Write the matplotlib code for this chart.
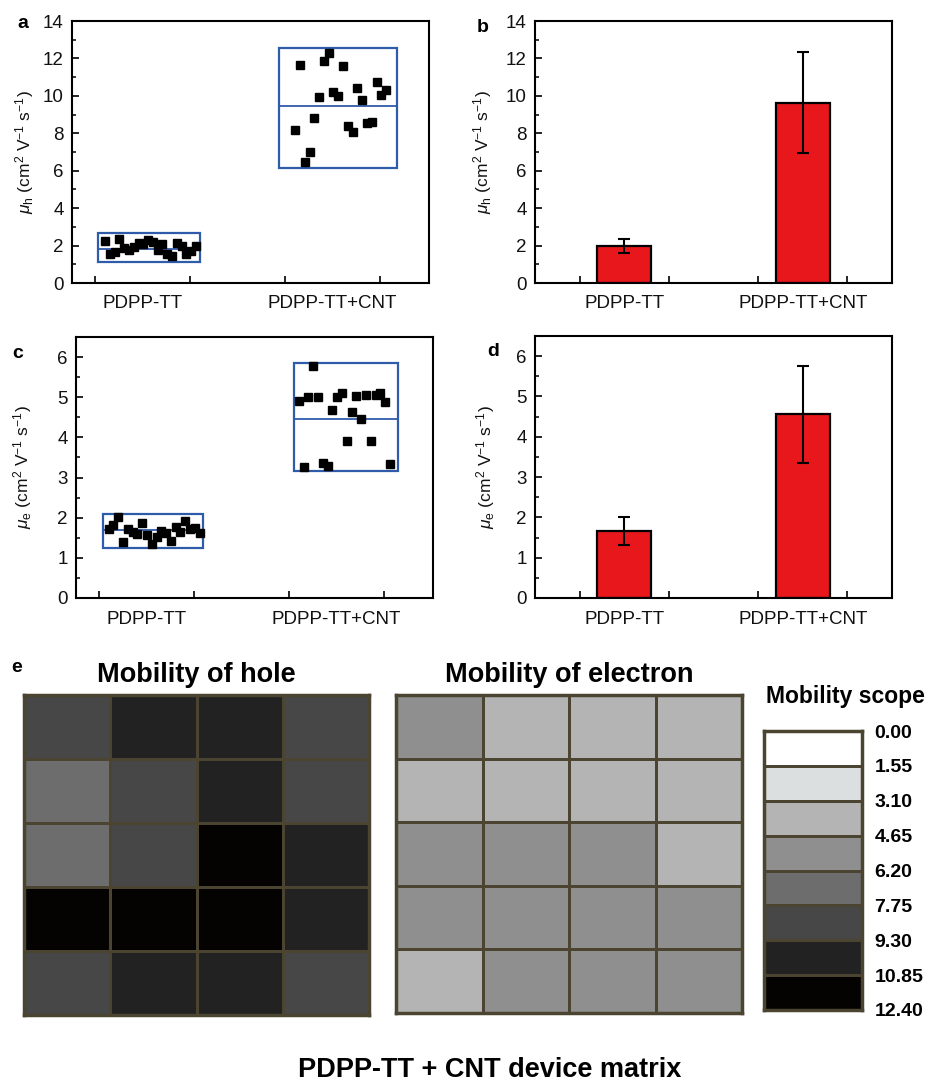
import numpy as np
import matplotlib
matplotlib.use("Agg")
import matplotlib.pyplot as plt
from matplotlib.patches import Rectangle
from matplotlib.colors import ListedColormap, BoundaryNorm
from matplotlib.ticker import MultipleLocator

plt.rcParams['font.family'] = ['Liberation Sans', 'DejaVu Sans']
plt.rcParams['mathtext.fontset'] = 'custom'
plt.rcParams['mathtext.rm'] = 'Liberation Sans'
plt.rcParams['mathtext.it'] = 'Liberation Sans:italic'

# ---- data ----
groups = ['PDPP-TT', 'PDPP-TT+CNT']

hole_tt = [2.23, 1.57, 1.64, 2.34, 1.89, 1.75, 1.93, 2.12, 2.10, 2.28,
           2.21, 1.75, 2.09, 1.57, 1.44, 2.14, 1.98, 1.53, 1.71, 2.00]
hole_cnt = [8.20, 11.66, 6.47, 6.99, 8.84, 9.93, 11.87, 12.30, 10.21, 10.00,
            11.57, 8.38, 8.06, 10.43, 9.80, 8.56, 8.59, 10.73, 10.04, 10.29]
elec_tt = [1.73, 1.83, 2.01, 1.39, 1.71, 1.64, 1.60, 1.88, 1.57, 1.34,
           1.51, 1.68, 1.63, 1.43, 1.78, 1.65, 1.92, 1.73, 1.75, 1.61]
elec_cnt = [4.91, 3.27, 5.01, 5.77, 5.00, 3.37, 3.28, 4.67, 5.01, 5.11,
            3.92, 4.64, 5.04, 4.47, 5.05, 3.92, 5.05, 5.11, 4.88, 3.34]

# box: (low, mean line, high)
hole_box = [(1.14, 1.84, 2.66), (6.17, 9.47, 12.57)]
elec_box = [(1.25, 1.70, 2.09), (3.16, 4.46, 5.85)]

hole_mean = [1.96, 9.64]
hole_err = [0.38, 2.70]
elec_mean = [1.67, 4.56]
elec_err = [0.35, 1.20]

hole_matrix = [[8.20, 9.93, 10.21, 8.84],
               [6.47, 8.38, 10.00, 8.06],
               [6.99, 8.56, 11.66, 10.43],
               [11.87, 12.30, 11.57, 10.73],
               [8.59, 10.04, 10.29, 9.10]]
elec_matrix = [[4.91, 3.27, 3.37, 3.28],
               [3.92, 4.64, 4.47, 3.92],
               [5.01, 5.77, 5.00, 3.34],
               [4.67, 5.01, 5.11, 5.04],
               [4.20, 5.05, 5.05, 5.11]]

scope_levels = [0.00, 1.55, 3.10, 4.65, 6.20, 7.75, 9.30, 10.85, 12.40]
scope_grays = ['#ffffff', '#dcdfdf', '#b4b4b4', '#8f8f8f',
               '#6d6d6d', '#474747', '#222222', '#050202']

W, H = 932, 1081
fig = plt.figure(figsize=(W / 100, H / 100), dpi=100)


def px_axes(l, t, r, b):
    return fig.add_axes([l / W, 1 - b / H, (r - l) / W, (b - t) / H])


BLUE = '#2f5bab'
TXT = '#111111'


def style_axes(ax, ymax, ystep, yminor):
    ax.set_ylim(0, ymax)
    ax.yaxis.set_major_locator(MultipleLocator(ystep))
    ax.yaxis.set_minor_locator(MultipleLocator(yminor))
    for s in ax.spines.values():
        s.set_linewidth(1.5)
    ax.tick_params(axis='y', which='major', direction='in', length=5, width=1.2,
                   labelsize=13.5, pad=6, labelcolor=TXT)
    ax.tick_params(axis='y', which='minor', direction='in', length=3, width=1.1)
    ax.tick_params(axis='x', which='major', direction='in', length=5, width=1.2,
                   labelbottom=False)
    ax.tick_params(axis='x', which='minor', length=0, labelsize=13.5, pad=9,
                   labelcolor=TXT)


def scatter_panel(ax, tt, cnt, boxes, xbox, xstart, ymax, ystep, yminor):
    ax.set_xlim(-0.24, 3.52)
    ax.set_xticks([0, 1, 2, 3])
    ax.set_xticks([0.5, 2.5], groups, minor=True)
    for vals, (lo, mid, hi), (x0, x1), xs in zip([tt, cnt], boxes, xbox, xstart):
        xpos = xs + 0.0505 * np.arange(len(vals))
        ax.add_patch(Rectangle((x0, lo), x1 - x0, hi - lo, fill=False,
                               ec=BLUE, lw=1.6, zorder=2))
        ax.plot([x0, x1], [mid, mid], color=BLUE, lw=1.3, zorder=2)
        ax.plot(xpos, vals, 's', color='black', ms=5.2, zorder=3)
    style_axes(ax, ymax, ystep, yminor)


def bar_panel(ax, means, errs, ymax, ystep, yminor):
    ax.set_xlim(0, 4)
    ax.bar([1, 3], means, width=0.6, color='#e8171c', edgecolor='black',
           linewidth=1.6, zorder=2)
    ax.errorbar([1, 3], means, yerr=errs, fmt='none', ecolor='black',
                elinewidth=1.5, capsize=4, capthick=1.5, zorder=3)
    ax.set_xticks([0.5, 1.5, 2.5, 3.5])
    ax.set_xticks([1, 3], groups, minor=True)
    style_axes(ax, ymax, ystep, yminor)


ax_a = px_axes(72, 21, 429, 283)
ax_b = px_axes(535, 21, 892, 283)
ax_c = px_axes(76, 337, 433, 598)
ax_d = px_axes(535, 336, 892, 598)

scatter_panel(ax_a, hole_tt, hole_cnt, hole_box, [(0.037, 1.11), (1.94, 3.18)],
              [0.107, 2.11], 14, 2, 1)
scatter_panel(ax_c, elec_tt, elec_cnt, elec_box, [(0.04, 1.10), (2.06, 3.156)],
              [0.103, 2.107], 6.5, 1, 0.5)
bar_panel(ax_b, hole_mean, hole_err, 14, 2, 1)
bar_panel(ax_d, elec_mean, elec_err, 6.5, 1, 0.5)

ylab_h = r'$\mu_{\rm h}$ (cm$^{2}$ V$^{-1}$ s$^{-1}$)'
ylab_e = r'$\mu_{\rm e}$ (cm$^{2}$ V$^{-1}$ s$^{-1}$)'
for x, y, lab in [(25, 152, ylab_h), (483, 152, ylab_h),
                  (23, 467, ylab_e), (486, 467, ylab_e)]:
    fig.text(x / W, 1 - y / H, lab, rotation=90, ha='center', va='center',
             fontsize=12.5, color=TXT)

for x, y, s in [(23, 24, 'a'), (483, 28, 'b'), (18, 353, 'c'), (493, 351, 'd'),
                (17, 668, 'e')]:
    fig.text(x / W, 1 - y / H, s, ha='center', va='center', fontsize=14,
             fontweight='bold')

# ---- panel e: device matrices ----
BORDER = '#4a4430'
cmap = ListedColormap(scope_grays)
norm = BoundaryNorm(scope_levels, cmap.N)


def matrix_panel(ax, mat, title):
    ax.pcolormesh(np.array(mat), cmap=cmap, norm=norm, edgecolors=BORDER,
                  linewidth=2)
    ax.set_xlim(0, 4)
    ax.set_ylim(5, 0)
    ax.set_xticks([])
    ax.set_yticks([])
    for s in ax.spines.values():
        s.set_color(BORDER)
        s.set_linewidth(2.5)
    ax.set_title(title, fontsize=19.5, fontweight='bold', pad=9)


ax_h = px_axes(24, 695, 369, 1015)
ax_e = px_axes(396, 695, 742, 1013)
matrix_panel(ax_h, hole_matrix, 'Mobility of hole')
matrix_panel(ax_e, elec_matrix, 'Mobility of electron')

ax_s = px_axes(764, 731, 862, 1010)
mids = np.array([(a + b) / 2 for a, b in zip(scope_levels[:-1], scope_levels[1:])])
ax_s.pcolormesh([0, 1], scope_levels, mids.reshape(-1, 1), cmap=cmap, norm=norm,
                edgecolors=BORDER, linewidth=2)
ax_s.set_ylim(scope_levels[-1], scope_levels[0])
ax_s.set_xticks([])
ax_s.yaxis.tick_right()
ax_s.set_yticks(scope_levels, [f'{v:.2f}' for v in scope_levels])
ax_s.tick_params(axis='y', length=0, pad=9, labelsize=14)
for lab in ax_s.get_yticklabels():
    lab.set_fontweight('bold')
for s in ax_s.spines.values():
    s.set_color(BORDER)
    s.set_linewidth(2.5)
fig.text(766 / W, 1 - 697 / H, 'Mobility scope', ha='left', va='center',
         fontsize=16.5, fontweight='bold')

fig.text(490 / W, 1 - 1070 / H, 'PDPP-TT + CNT device matrix', ha='center',
         va='center', fontsize=19.5, fontweight='bold')

fig.savefig('out.png', dpi=100)
